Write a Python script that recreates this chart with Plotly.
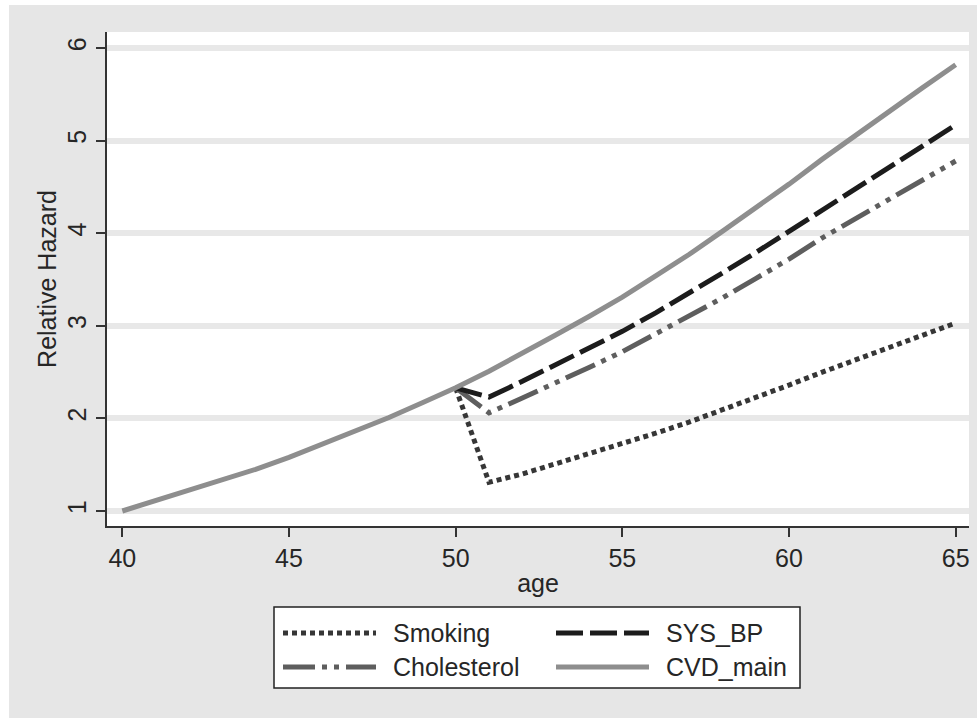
import plotly.graph_objects as go

# Relative hazard by age for the main CVD model and three risk-factor scenarios
ages = list(range(40, 66))
cvd_main = [1.00, 1.11, 1.22, 1.33, 1.45, 1.58, 1.72, 1.86, 2.01, 2.17, 2.33,
            2.51, 2.70, 2.90, 3.10, 3.31, 3.54, 3.77, 4.02, 4.27, 4.53,
            4.80, 5.06, 5.32, 5.57, 5.82]

# Scenario curves leave the main curve at age 50
scen_ages = list(range(50, 66))
smoking = [2.33, 1.31, 1.40, 1.51, 1.61, 1.72, 1.84, 1.96, 2.09, 2.22, 2.36,
           2.50, 2.63, 2.77, 2.90, 3.03]
sys_bp = [2.33, 2.23, 2.40, 2.58, 2.75, 2.94, 3.14, 3.35, 3.57, 3.79, 4.02,
          4.26, 4.49, 4.72, 4.95, 5.17]
cholesterol = [2.33, 2.06, 2.22, 2.38, 2.55, 2.72, 2.91, 3.10, 3.30, 3.51, 3.72,
               3.95, 4.16, 4.37, 4.58, 4.78]

x_ticks = [40, 45, 50, 55, 60, 65]
y_ticks = [1, 2, 3, 4, 5, 6]

FONT = "Liberation Sans, Arial, Helvetica, sans-serif"
TXT = "#262626"
BG = "#e6e6e6"

styles = {
    "Smoking": dict(color="#363636", width=5, dash="5px,4px"),
    "SYS_BP": dict(color="#1c1c1c", width=5, dash="27px,7px"),
    "Cholesterol": dict(color="#5e5e5e", width=5, dash="32px,7px,5px,7px,5px,7px"),
    "CVD_main": dict(color="#8e8e8e", width=5, dash="solid"),
}

fig = go.Figure()
for name, ys, xs in [("Smoking", smoking, scen_ages),
                     ("Cholesterol", cholesterol, scen_ages),
                     ("SYS_BP", sys_bp, scen_ages),
                     ("CVD_main", cvd_main, ages)]:
    fig.add_trace(go.Scatter(x=xs, y=ys, mode="lines", name=name,
                             line=styles[name], showlegend=False))

W, H = 977, 718
ml, mr, mt, mb = 107, 8, 32, 192
pw, ph = W - ml - mr, H - mt - mb


def fx(px):
    return (px - ml) / pw


def fy(py):
    return (H - mb - py) / ph


shapes = [
    # white page edge along top and left
    dict(type="rect", xref="paper", yref="paper", x0=fx(0), x1=fx(W), y0=fy(5), y1=fy(0),
         fillcolor="white", line_width=0, layer="below"),
    dict(type="rect", xref="paper", yref="paper", x0=fx(0), x1=fx(9), y0=fy(H), y1=fy(0),
         fillcolor="white", line_width=0, layer="below"),
    # legend frame
    dict(type="rect", xref="paper", yref="paper", x0=fx(274), x1=fx(800), y0=fy(688), y1=fy(607),
         fillcolor="white", line=dict(color="#222222", width=1.5)),
]

annotations = []
legend_items = [("Smoking", 283, 633), ("SYS_BP", 556, 633),
                ("Cholesterol", 283, 667), ("CVD_main", 556, 667)]
for name, lx, ly in legend_items:
    st = styles[name]
    shapes.append(dict(type="line", xref="paper", yref="paper",
                       x0=fx(lx), x1=fx(lx + 93), y0=fy(ly), y1=fy(ly),
                       line=dict(color=st["color"], width=st["width"], dash=st["dash"])))
    annotations.append(dict(xref="paper", yref="paper", x=fx(lx + 108), y=fy(ly),
                            xanchor="left", yanchor="middle", text=name, showarrow=False,
                            font=dict(family=FONT, size=25, color=TXT)))

axis_common = dict(
    showline=True, linecolor="#333333", linewidth=1.5, mirror=False,
    ticks="outside", ticklen=9, tickwidth=1.5, tickcolor="#333333",
    tickfont=dict(family=FONT, size=25, color=TXT), zeroline=False,
)

fig.update_layout(
    width=W, height=H,
    margin=dict(l=ml, r=mr, t=mt, b=mb),
    paper_bgcolor=BG, plot_bgcolor="white",
    font=dict(family=FONT, size=25, color=TXT),
    shapes=shapes, annotations=annotations,
    xaxis=dict(range=[39.54, 65.40], tickvals=x_ticks, showgrid=False,
               title=dict(text="age", font=dict(family=FONT, size=25, color=TXT), standoff=4),
               **axis_common),
    yaxis=dict(range=[0.838, 6.173], tickvals=y_ticks, tickangle=-90,
               showgrid=True, gridcolor="#e8e8e8", gridwidth=6,
               title=dict(text="Relative Hazard", font=dict(family=FONT, size=25, color=TXT), standoff=0),
               **axis_common),
)

fig.write_html("out.html")
